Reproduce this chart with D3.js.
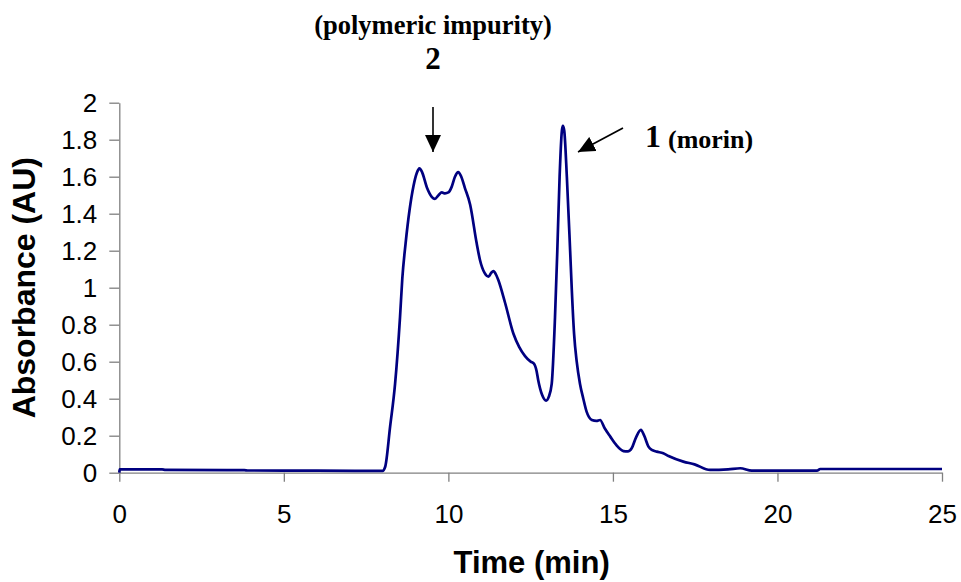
<!DOCTYPE html>
<html>
<head>
<meta charset="utf-8">
<script src="https://cdn.jsdelivr.net/npm/d3@7"></script>
<style>
  html, body { margin: 0; padding: 0; background: #fff; }
  svg { display: block; }
</style>
</head>
<body>
<svg id="chart" width="961" height="582"></svg>
<script>
// ---- data ----
const times = [0, 0.01, 1.3, 1.4, 3.8, 3.9, 6.0, 8.0, 8.08, 8.23, 8.38, 8.53, 8.6, 8.7, 8.82, 8.94, 9.04, 9.12, 9.2, 9.35, 9.5, 9.59, 9.7, 9.8, 9.9, 10.0, 10.1, 10.2, 10.3, 10.38, 10.5, 10.66, 10.86, 10.96, 11.1, 11.22, 11.3, 11.37, 11.45, 11.52, 11.72, 11.98, 12.15, 12.33, 12.5, 12.6, 12.68, 12.73, 12.85, 12.97, 13.05, 13.14, 13.24, 13.31, 13.38, 13.45, 13.48, 13.52, 13.6, 13.7, 13.75, 13.82, 13.9, 14.0, 14.1, 14.2, 14.36, 14.5, 14.61, 14.75, 14.92, 15.1, 15.32, 15.45, 15.57, 15.7, 15.85, 15.95, 16.08, 16.18, 16.33, 16.53, 16.69, 17.14, 17.48, 17.95, 18.5, 18.87, 19.22, 21.2, 21.3, 25];
const absorbance = [0, 0.018, 0.018, 0.015, 0.014, 0.012, 0.011, 0.010, 0.032, 0.25, 0.48, 0.84, 1.05, 1.24, 1.42, 1.55, 1.62, 1.645, 1.625, 1.54, 1.49, 1.48, 1.50, 1.515, 1.51, 1.515, 1.545, 1.60, 1.625, 1.605, 1.54, 1.45, 1.24, 1.15, 1.08, 1.06, 1.08, 1.09, 1.07, 1.04, 0.92, 0.75, 0.68, 0.63, 0.60, 0.59, 0.55, 0.50, 0.42, 0.39, 0.41, 0.48, 0.84, 1.20, 1.60, 1.85, 1.875, 1.85, 1.60, 1.20, 0.99, 0.75, 0.60, 0.48, 0.40, 0.33, 0.285, 0.28, 0.285, 0.24, 0.195, 0.15, 0.117, 0.115, 0.132, 0.19, 0.231, 0.20, 0.141, 0.123, 0.114, 0.105, 0.09, 0.06, 0.045, 0.015, 0.018, 0.024, 0.011, 0.011, 0.02, 0.02];
const xTicks = [0, 5, 10, 15, 20, 25];
const yTicks = [0, 0.2, 0.4, 0.6, 0.8, 1, 1.2, 1.4, 1.6, 1.8, 2];
const yTickLabels = ["0", "0.2", "0.4", "0.6", "0.8", "1", "1.2", "1.4", "1.6", "1.8", "2"];
const xTitle = "Time (min)";
const yTitle = "Absorbance (AU)";
const peak2Label = "(polymeric impurity)";
const peak2Num = "2";
const peak1Num = "1";
const peak1Label = "(morin)";

// ---- layout ----
const svg = d3.select("#chart");
const plotL = 119.3, plotR = 942, plotT = 102.7, plotB = 472.7;
const x = d3.scaleLinear().domain([0, 25]).range([plotL, plotR]);
const y = d3.scaleLinear().domain([0, 2]).range([plotB, plotT]);
const axisColor = "#808080";
const sans = "'Liberation Sans', Arial, sans-serif";
const serif = "'Liberation Serif', 'Times New Roman', serif";

// x axis
const gx = svg.append("g").attr("transform", `translate(0,${plotB})`)
  .call(d3.axisBottom(x).tickValues(xTicks).tickSize(9).tickPadding(23).tickSizeOuter(0));
gx.select(".domain").attr("stroke", axisColor).attr("stroke-width", 1.3);
gx.selectAll(".tick line").attr("stroke", axisColor).attr("stroke-width", 1.3);
gx.selectAll(".tick text").attr("font-family", sans).attr("font-size", 26).attr("fill", "#000");

// y axis
const gy = svg.append("g").attr("transform", `translate(${plotL},0)`)
  .call(d3.axisLeft(y).tickValues(yTicks).tickFormat((d, i) => yTickLabels[i]).tickSize(10).tickPadding(12).tickSizeOuter(0));
gy.select(".domain").attr("stroke", axisColor).attr("stroke-width", 1.3);
gy.selectAll(".tick line").attr("stroke", axisColor).attr("stroke-width", 1.3);
gy.selectAll(".tick text").attr("font-family", sans).attr("font-size", 26).attr("fill", "#000");

// axis titles
svg.append("text").attr("x", (plotL + plotR) / 2 + 1).attr("y", 573)
  .attr("text-anchor", "middle").attr("font-family", sans).attr("font-weight", "bold")
  .attr("font-size", 31).text(xTitle);
svg.append("text").attr("transform", `translate(35,${(plotT + plotB) / 2}) rotate(-90)`)
  .attr("text-anchor", "middle").attr("font-family", sans).attr("font-weight", "bold")
  .attr("font-size", 32).text(yTitle);

// chromatogram
const pts = times.map((t, i) => [t, absorbance[i]]);
const line = d3.line().x(d => x(d[0])).y(d => y(d[1])).curve(d3.curveMonotoneX);
svg.append("path").datum(pts).attr("d", line)
  .attr("fill", "none").attr("stroke", "#000080").attr("stroke-width", 2.7)
  .attr("stroke-linejoin", "round");

// annotations
svg.append("text").attr("x", 433).attr("y", 34).attr("text-anchor", "middle")
  .attr("font-family", serif).attr("font-weight", "bold").attr("font-size", 26.5).text(peak2Label);
svg.append("text").attr("x", 433).attr("y", 69).attr("text-anchor", "middle")
  .attr("font-family", serif).attr("font-weight", "bold").attr("font-size", 31).text(peak2Num);
svg.append("text").attr("x", 645).attr("y", 147)
  .attr("font-family", serif).attr("font-weight", "bold").attr("font-size", 32).text(peak1Num);
svg.append("text").attr("x", 668).attr("y", 148)
  .attr("font-family", serif).attr("font-weight", "bold").attr("font-size", 26).text(peak1Label);

// arrows
const defs = svg.append("defs");
defs.append("marker").attr("id", "ah").attr("viewBox", "0 0 10 10")
  .attr("refX", 10).attr("refY", 5).attr("markerWidth", 17).attr("markerHeight", 16)
  .attr("markerUnits", "userSpaceOnUse").attr("orient", "auto")
  .attr("preserveAspectRatio", "none")
  .append("path").attr("d", "M0,0 L10,5 L0,10 Z").attr("fill", "#000");
svg.append("line").attr("x1", 433).attr("y1", 107).attr("x2", 433).attr("y2", 152)
  .attr("stroke", "#000").attr("stroke-width", 1.6).attr("marker-end", "url(#ah)");
svg.append("line").attr("x1", 623).attr("y1", 128).attr("x2", 578).attr("y2", 152)
  .attr("stroke", "#000").attr("stroke-width", 1.6).attr("marker-end", "url(#ah)");
</script>
</body>
</html>
